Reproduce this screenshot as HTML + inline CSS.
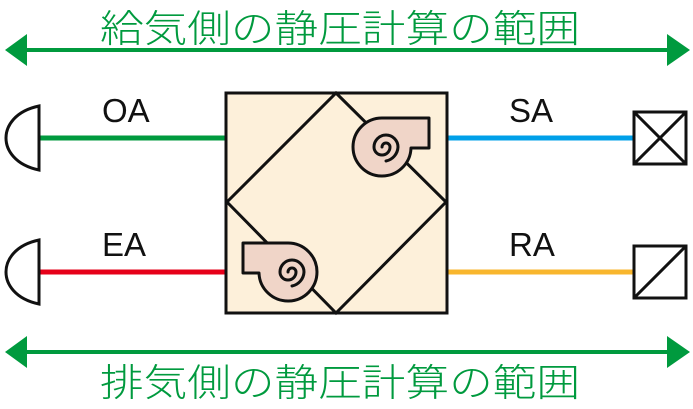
<!DOCTYPE html>
<html><head><meta charset="utf-8"><style>
html,body{margin:0;padding:0;background:#fff;width:693px;height:409px;overflow:hidden}
</style></head><body>
<svg width="693" height="409" viewBox="0 0 693 409" xmlns="http://www.w3.org/2000/svg">
<g fill="#009a3e" stroke="none">
<rect x="24" y="48" width="646" height="4"/>
<polygon points="5,50 27,34 27,66"/>
<polygon points="690,50 667,34 667,66"/>
<rect x="24" y="350" width="646" height="4"/>
<polygon points="5,352 27,336 27,368"/>
<polygon points="690,352 667,336 667,368"/>
</g>
<g font-family="Liberation Sans, Noto Sans CJK JP, sans-serif" fill="#009a3e" font-size="38" font-weight="300">
<text x="100" y="42" textLength="480" lengthAdjust="spacingAndGlyphs">給気側の静圧計算の範囲</text>
<text x="100" y="396" textLength="480" lengthAdjust="spacingAndGlyphs">排気側の静圧計算の範囲</text>
</g>
<line x1="39" y1="138" x2="227" y2="138" stroke="#009a3e" stroke-width="5"/>
<line x1="39" y1="272" x2="227" y2="272" stroke="#e60019" stroke-width="5"/>
<line x1="447" y1="138" x2="634" y2="138" stroke="#00a0e9" stroke-width="5"/>
<line x1="447" y1="272" x2="634" y2="272" stroke="#f8b62d" stroke-width="5"/>
<g fill="#fff" stroke="#111" stroke-width="3">
<path d="M39,106 L39,170 C15,165 6,150 6,138 C6,126 15,111 39,106 Z"/>
<path d="M39,240 L39,304 C15,299 6,284 6,272 C6,260 15,245 39,240 Z"/>
<rect x="634" y="112" width="52" height="52"/>
<line x1="634" y1="112" x2="686" y2="164"/><line x1="686" y1="112" x2="634" y2="164"/>
<rect x="634" y="246" width="52" height="52"/>
<line x1="686" y1="246" x2="634" y2="298"/>
</g>
<rect x="226" y="93" width="221" height="220" fill="#fdf0da" stroke="#111" stroke-width="3"/>
<polygon points="336,93 446,202 336,313 227,202" fill="none" stroke="#111" stroke-width="3"/>
<g fill="#f0d5c8" stroke="#111" stroke-width="3" stroke-linejoin="round">
<path d="M382,118 L429,118 L429,148 L411,148 A29,29 0 1 1 382,118 Z"/>
<path d="M288,243 L243,243 L243,273 L259,273 A29,29 0 1 0 288,243 Z"/>
</g>
<g fill="none" stroke="#111" stroke-width="3" stroke-linecap="round">
<path d="M382,147 A4,4 0 0 1 390,147 A8,8 0 0 1 374,147 A12,12 0 0 1 398,147 A15,15 0 0 1 386,161"/>
<path d="M288,272 A4,4 0 0 1 296,272 A8,8 0 0 1 280,272 A12,12 0 0 1 304,272 A15,15 0 0 1 292,286"/>
</g>
<g font-family="Liberation Sans, sans-serif" font-size="33" fill="#111">
<text x="102" y="122">OA</text>
<text x="102" y="256">EA</text>
<text x="509" y="122">SA</text>
<text x="509" y="256">RA</text>
</g>
</svg>
</body></html>
